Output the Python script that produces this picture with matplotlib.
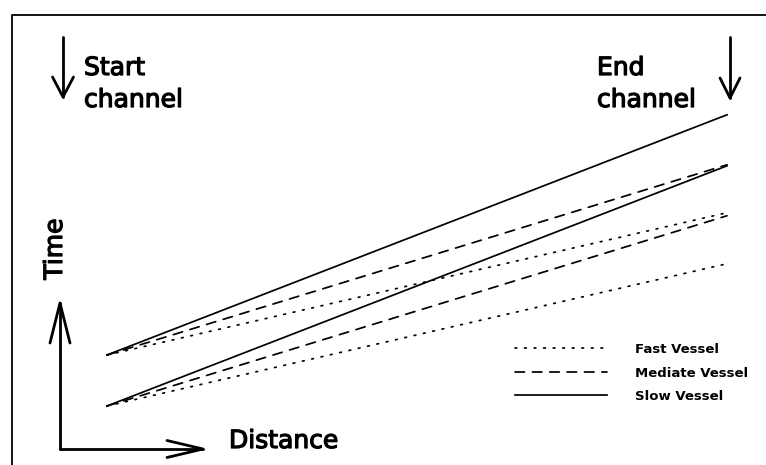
import numpy as np
import matplotlib
matplotlib.use("Agg")
from matplotlib import pyplot as plt
from matplotlib import patheffects

# distance between the two detection channels (start = 0, end = 1)
distance = [0.0, 1.0]
# the two pulses that enter the start channel
startTimes = [0.0, 1.0]
# time each vessel type needs to go from start to end channel
vesselNames = ['Fast Vessel', 'Mediate Vessel', 'Slow Vessel']
vesselTravelTimes = [2.79, 3.73, 4.71]
vesselStyles = [(0, (1, 4.5)), (0, (5.5, 4.5)), '-']

W, H = 766, 465
fig = plt.figure(figsize=(W / 100, H / 100), dpi=100)

# data axes: distance 0..1 spans px 107..727, 1 time unit = 51 px, t=0 at px 406
ax = fig.add_axes([0, 0, 1, 1])
ax.set_xlim(-107 / 620, (W - 107) / 620)
ax.set_ylim((406 - H) / 51, 406 / 51)
ax.axis('off')

handles = []
for name, travel, style in zip(vesselNames, vesselTravelTimes, vesselStyles):
	for t0 in startTimes:
		line, = ax.plot(distance, [t0, t0 + travel], color='black', lw=1.25, linestyle=style,
		                dash_capstyle='round')
	handles.append(line)

leg = ax.legend(handles=handles, labels=vesselNames, loc='upper left', frameon=False,
                bbox_to_anchor=(515 / W, 1 - 343 / H), bbox_transform=fig.transFigure,
                borderpad=0, borderaxespad=0, handlelength=7.0, handletextpad=2.1,
                labelspacing=0.8, prop={'family': 'DejaVu Sans', 'weight': 'bold', 'size': 9.5})

# decoration layer in pixel units (frame, arrows, labels)
deco = fig.add_axes([0, 0, 1, 1], facecolor='none')
deco.set_xlim(0, W)
deco.set_ylim(H, 0)
deco.axis('off')

# frame running off the right and bottom edges
deco.plot([12, 12, W + 5], [H + 5, 15, 15], color='black', lw=1.3)

arrowKw = dict(color='black', lw=2.0, solid_capstyle='round', solid_joinstyle='round')


def drawArrow(x0, y0, x1, y1, headLen, headHalf):
	deco.plot([x0, x1], [y0, y1], **arrowKw)
	d = np.array([x1 - x0, y1 - y0], dtype=float)
	d /= np.hypot(*d)
	n = np.array([-d[1], d[0]])
	base = np.array([x1, y1]) - d * headLen
	left = base + n * headHalf
	right = base - n * headHalf
	deco.plot([left[0], x1, right[0]], [left[1], y1, right[1]], **arrowKw)


drawArrow(63, 37, 63, 97, 20, 10.5)      # start channel
drawArrow(730, 37, 730, 98, 20, 10)      # end channel
drawArrow(60, 449, 60, 303, 40, 10)      # time axis
drawArrow(60, 449, 203, 449, 36, 8.5)    # distance axis

txtKw = dict(family='DejaVu Sans', fontsize=18, color='black',
             path_effects=[patheffects.withStroke(linewidth=0.9, foreground='black')])
deco.text(84, 75, 'Start', ha='left', va='baseline', **txtKw)
deco.text(84, 107, 'channel', ha='left', va='baseline', **txtKw)
deco.text(597, 75, 'End', ha='left', va='baseline', **txtKw)
deco.text(597, 107, 'channel', ha='left', va='baseline', **txtKw)
deco.text(62, 249, 'Time', rotation=90, ha='center', va='baseline', rotation_mode='anchor', **txtKw)
deco.text(229, 448, 'Distance', ha='left', va='baseline', **txtKw)

fig.savefig('out.png', dpi=100, facecolor='white')
